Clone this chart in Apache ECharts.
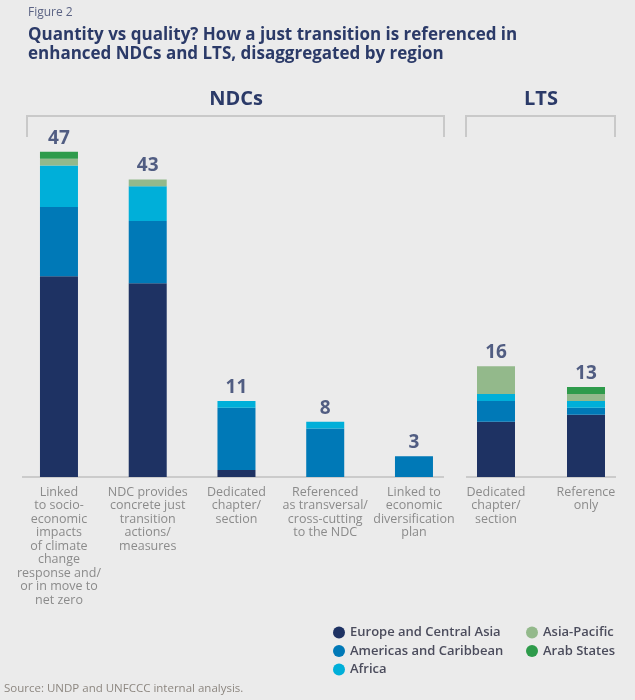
<!DOCTYPE html>
<html>
<head>
<meta charset="utf-8">
<title>Figure 2</title>
<script src="https://cdn.jsdelivr.net/npm/echarts@6/dist/echarts.min.js"></script>
<style>
  html, body { margin : 0; padding : 0; background : #ebebeb; }
  #chart { width : 635px; height : 700px; }
</style>
</head>
<body>
<div id="chart"></div>
<script>
const ndcCats = [
  'Linked\nto socio-\neconomic\nimpacts\nof climate\nchange\nresponse and/\nor in move to\nnet zero',
  'NDC provides\nconcrete just\ntransition\nactions/\nmeasures',
  'Dedicated\nchapter/\nsection',
  'Referenced\nas transversal/\ncross-cutting\nto the NDC',
  'Linked to\neconomic\ndiversification\nplan'
]
const ltsCats = ['Dedicated\nchapter/\nsection', 'Reference\nonly']

const regions = ['Europe and Central Asia', 'Americas and Caribbean', 'Africa', 'Asia-Pacific', 'Arab States']
const regionColors = ['#1e3263', '#0079b7', '#00afd9', '#93b98b', '#2e9b4b']

// NDCs, one value per category
const europeNdc = [29, 28, 1, 0, 0]
const americasNdc = [10, 9, 9, 7, 3]
const africaNdc = [6, 5, 1, 1, 0]
const asiaNdc = [1, 1, 0, 0, 0]
const arabNdc = [1, 0, 0, 0, 0]
const ndcTotals = [47, 43, 11, 8, 3]

// LTS
const europeLts = [8, 9]
const americasLts = [3, 1]
const africaLts = [1, 1]
const asiaLts = [4, 1]
const arabLts = [0, 1]
const ltsTotals = [16, 13]

const navy = '#2b3a68'
const chart = echarts.init( document.getElementById( 'chart' ) )

const stackSeries = ( idx, lists, stack ) => lists.map( ( data, i ) => ( {
  name : regions[i],
  type : 'bar',
  stack : stack,
  xAxisIndex : idx,
  yAxisIndex : idx,
  barWidth : 38,
  itemStyle : { color : regionColors[i] },
  data : data
} ) )

const totalSeries = ( idx, data ) => ( {
  type : 'scatter',
  xAxisIndex : idx,
  yAxisIndex : idx,
  symbolSize : 0,
  silent : true,
  label : {
    show : true,
    position : 'top',
    distance : 4,
    fontFamily : 'Open Sans',
    fontSize : 19,
    fontWeight : 'bold',
    color : navy,
    formatter : p => p.value
  },
  data : data
} )

const catAxis = ( idx, data ) => ( {
  type : 'category',
  gridIndex : idx,
  data : data,
  axisLine : { show : false },
  axisTick : { show : false },
  axisLabel : {
    interval : 0,
    margin : 8.5,
    fontFamily : 'Open Sans',
    fontSize : 12.5,
    lineHeight : 13.5,
    color : '#8b8b8b'
  }
} )

const valAxis = idx => ( {
  type : 'value',
  gridIndex : idx,
  min : 0,
  max : 50,
  show : false
} )

const legendStyle = {
  orient : 'vertical',
  top : 626,
  icon : 'circle',
  itemWidth : 12,
  itemHeight : 12,
  itemGap : 5.5,
  padding : 0,
  selectedMode : false,
  textStyle : {
    fontFamily : 'Open Sans',
    fontSize : 13,
    fontWeight : 600,
    color : '#4b4c5c'
  }
}

chart.setOption( {
  backgroundColor : '#ebebeb',
  animation : false,
  title : [
    {
      text : 'Figure 2',
      left : 28,
      top : 7,
      padding : 0,
      textStyle : { fontFamily : 'Open Sans', fontSize : 12, fontWeight : 'normal', color : '#5b6384' }
    },
    {
      text : 'Quantity vs quality? How a just transition is referenced in\nenhanced NDCs and LTS, disaggregated by region',
      left : 28,
      top : 25,
      padding : 0,
      textStyle : { fontFamily : 'Open Sans', fontSize : 17, fontWeight : 'bold', lineHeight : 19.5, color : navy }
    },
    {
      text : 'NDCs',
      left : 236,
      top : 89,
      padding : 0,
      textAlign : 'center',
      textStyle : { fontFamily : 'Open Sans', fontSize : 20, fontWeight : 'bold', color : navy }
    },
    {
      text : 'LTS',
      left : 541,
      top : 89,
      padding : 0,
      textAlign : 'center',
      textStyle : { fontFamily : 'Open Sans', fontSize : 20, fontWeight : 'bold', color : navy }
    },
    {
      text : 'Source: UNDP and UNFCCC internal analysis.',
      left : 4,
      top : 683,
      padding : 0,
      textStyle : { fontFamily : 'Open Sans', fontSize : 11.5, fontWeight : 'normal', color : '#8d8780' }
    }
  ],
  legend : [
    Object.assign( {}, legendStyle, { left : 333, data : regions.slice( 0, 3 ) } ),
    Object.assign( {}, legendStyle, { left : 526, data : regions.slice( 3 ) } )
  ],
  grid : [
    { left : 14.6, width : 443.75, top : 131, height : 346 },
    { left : 451, width : 180, top : 131, height : 346 }
  ],
  xAxis : [catAxis( 0, ndcCats ), catAxis( 1, ltsCats )],
  yAxis : [valAxis( 0 ), valAxis( 1 )],
  graphic : [
    /* group brackets and baselines */
    { type : 'polyline', shape : { points : [[27, 137], [27, 116], [444, 116], [444, 137]] }, style : { stroke : '#c9c9c9', lineWidth : 2, fill : null } },
    { type : 'polyline', shape : { points : [[466, 137], [466, 116], [615, 116], [615, 137]] }, style : { stroke : '#c9c9c9', lineWidth : 2, fill : null } },
    { type : 'line', shape : { x1 : 22, y1 : 477, x2 : 444, y2 : 477 }, style : { stroke : '#cbcbcb', lineWidth : 2 } },
    { type : 'line', shape : { x1 : 466, y1 : 477, x2 : 616, y2 : 477 }, style : { stroke : '#cbcbcb', lineWidth : 2 } }
  ],
  series : [
    ...stackSeries( 0, [europeNdc, americasNdc, africaNdc, asiaNdc, arabNdc], 'ndc' ),
    ...stackSeries( 1, [europeLts, americasLts, africaLts, asiaLts, arabLts], 'lts' ),
    totalSeries( 0, ndcTotals ),
    totalSeries( 1, ltsTotals )
  ]
} )
</script>
</body>
</html>
